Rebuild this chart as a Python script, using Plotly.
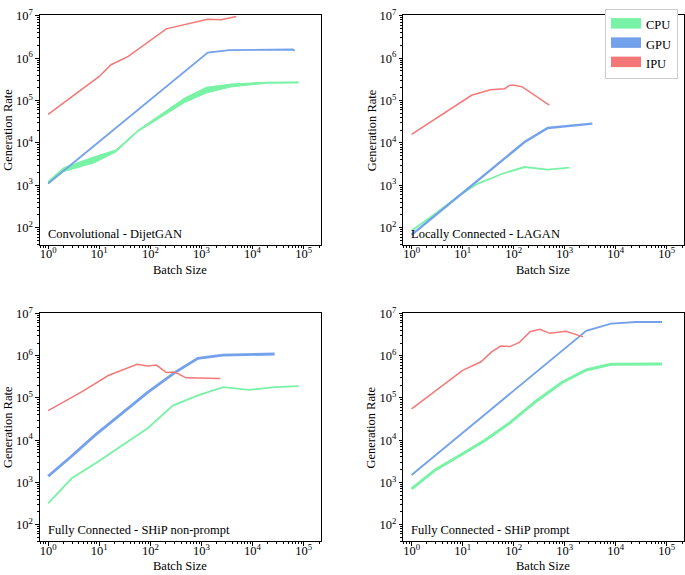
import plotly.graph_objects as go

# ---------------- data ----------------
devices = ["CPU", "GPU", "IPU"]
titles = ["Convolutional - DijetGAN", "Locally Connected - LAGAN",
          "Fully Connected - SHiP non-prompt", "Fully Connected - SHiP prompt"]
x_tick_labels = ["10<sup>0</sup>", "10<sup>1</sup>", "10<sup>2</sup>",
                 "10<sup>3</sup>", "10<sup>4</sup>", "10<sup>5</sup>"]
y_tick_labels = ["10<sup>2</sup>", "10<sup>3</sup>", "10<sup>4</sup>",
                 "10<sup>5</sup>", "10<sup>6</sup>", "10<sup>7</sup>"]

# Panel 1: DijetGAN
dj_cpu_x = [1, 2, 8, 21, 57, 470, 1240, 3800, 18600, 80000]
dj_cpu_lo = [1.08e3, 2.1e3, 3.4e3, 6.1e3, 1.85e4, 9.0e4, 1.5e5, 2.1e5, 2.55e5, 2.6e5]
dj_cpu_hi = [1.25e3, 2.6e3, 4.7e3, 6.8e3, 2.0e4, 1.15e5, 2.05e5, 2.45e5, 2.7e5, 2.75e5]
dj_gpu_x = [1, 1330, 3550, 16000, 61000, 67000]
dj_gpu_y = [1.1e3, 1.35e6, 1.55e6, 1.6e6, 1.6e6, 1.5e6]
dj_ipu_x = [1, 10, 17, 37, 205, 500, 1330, 2450, 4800]
dj_ipu_y = [4.7e4, 3.7e5, 7.0e5, 1.1e6, 4.9e6, 6.3e6, 8.3e6, 8.1e6, 9.6e6]

# Panel 2: LAGAN
la_cpu_x = [1, 3, 9, 20, 62, 164, 467, 1240]
la_cpu_y = [85, 220, 600, 1.1e3, 1.9e3, 2.7e3, 2.35e3, 2.6e3]
la_gpu_x = [1, 164, 467, 3500]
la_gpu_y = [68, 1.05e4, 2.25e4, 2.85e4]
la_ipu_x = [1, 15, 35, 67, 84, 105, 148, 500]
la_ipu_y = [1.6e4, 1.33e5, 1.8e5, 1.9e5, 2.3e5, 2.3e5, 2.1e5, 7.8e4]

# Panel 3: SHiP non-prompt
np_cpu_x = [1, 2.9, 8.8, 29, 90, 275, 850, 2700, 8500, 27000, 80000]
np_cpu_y = [3.2e2, 1.25e3, 2.9e3, 7.8e3, 1.95e4, 6.6e4, 1.15e5, 1.8e5, 1.55e5, 1.8e5, 1.9e5]
np_gpu_x = [1, 2.9, 8.2, 27, 90, 300, 850, 2600, 27000]
np_gpu_y = [1.4e3, 4.2e3, 1.3e4, 4.2e4, 1.38e5, 4.0e5, 8.7e5, 1.03e6, 1.1e6]
np_ipu_x = [1, 4.8, 15, 55, 88, 132, 205, 300, 500, 2350]
np_ipu_y = [5.0e4, 1.45e5, 3.4e5, 6.3e5, 5.7e5, 6.0e5, 4.0e5, 4.1e5, 3.0e5, 2.9e5]

# Panel 4: SHiP prompt
pr_cpu_x = [1, 2.95, 9, 27.6, 85, 280, 870, 2650, 8100, 81000]
pr_cpu_y = [7.0e2, 2.0e3, 4.4e3, 1.0e4, 2.6e4, 8.5e4, 2.3e5, 4.6e5, 6.3e5, 6.4e5]
pr_gpu_x = [1, 2650, 8100, 25000, 81000]
pr_gpu_y = [1.5e3, 3.9e6, 5.8e6, 6.3e6, 6.3e6]
pr_ipu_x = [1, 10, 23, 37, 56, 85, 132, 210, 325, 510, 1070, 2300]
pr_ipu_y = [5.5e4, 4.5e5, 7.2e5, 1.23e6, 1.7e6, 1.65e6, 2.1e6, 3.7e6, 4.26e6, 3.4e6, 3.8e6, 2.8e6]

# ---------------- style ----------------
COLORS = {"CPU": "#78f2a5", "GPU": "#73a1ec", "IPU": "#f47878"}
FONT = "Liberation Serif, DejaVu Serif, serif"
W, H = 685, 575

fig = go.Figure()

def ax_suffix(i):
    return "" if i == 1 else str(i)

def add_line(panel, dev, x, y, width=1.5):
    s = ax_suffix(panel)
    fig.add_trace(go.Scatter(x=x, y=y, mode="lines",
                             line=dict(color=COLORS[dev], width=width),
                             xaxis="x" + s, yaxis="y" + s, showlegend=False,
                             hoverinfo="skip"))

def add_band(panel, dev, x, lo, hi):
    s = ax_suffix(panel)
    fig.add_trace(go.Scatter(x=x, y=hi, mode="lines",
                             line=dict(color=COLORS[dev], width=1),
                             xaxis="x" + s, yaxis="y" + s, showlegend=False,
                             hoverinfo="skip"))
    fig.add_trace(go.Scatter(x=x, y=lo, mode="lines", fill="tonexty",
                             fillcolor=COLORS[dev],
                             line=dict(color=COLORS[dev], width=1),
                             xaxis="x" + s, yaxis="y" + s, showlegend=False,
                             hoverinfo="skip"))

# Panel 1
add_band(1, "CPU", dj_cpu_x, dj_cpu_lo, dj_cpu_hi)
add_line(1, "GPU", dj_gpu_x, dj_gpu_y, 1.8)
add_line(1, "IPU", dj_ipu_x, dj_ipu_y, 1.5)
# Panel 2
add_line(2, "CPU", la_cpu_x, la_cpu_y, 1.8)
add_line(2, "GPU", la_gpu_x, la_gpu_y, 2.4)
add_line(2, "IPU", la_ipu_x, la_ipu_y, 1.5)
# Panel 3
add_line(3, "CPU", np_cpu_x, np_cpu_y, 1.8)
add_line(3, "GPU", np_gpu_x, np_gpu_y, 2.8)
add_line(3, "IPU", np_ipu_x, np_ipu_y, 1.5)
# Panel 4
add_line(4, "CPU", pr_cpu_x, pr_cpu_y, 3.0)
add_line(4, "GPU", pr_gpu_x, pr_gpu_y, 1.8)
add_line(4, "IPU", pr_ipu_x, pr_ipu_y, 1.5)

# legend entries (patches)
for dev in devices:
    fig.add_trace(go.Scatter(x=[None], y=[None], mode="lines", name=dev,
                             fill="toself", fillcolor=COLORS[dev],
                             line=dict(color=COLORS[dev], width=9),
                             xaxis="x2", yaxis="y2", showlegend=True))

# ---------------- axes ----------------
px = lambda v: v / W
py = lambda v: 1 - v / H
domains = {
    1: ([px(40), px(321)], [py(240), py(7)]),
    2: ([px(404), px(684.5)], [py(240), py(7)]),
    3: ([px(40), px(321)], [py(541), py(309)]),
    4: ([px(404), px(684.5)], [py(541), py(309)]),
}
x_major = [1, 10, 100, 1000, 10000, 100000]
y_major = [1e2, 1e3, 1e4, 1e5, 1e6, 1e7]
x_minor = [k * 10 ** d for d in range(-1, 6) for k in range(2, 10)]
y_minor = [k * 10 ** d for d in range(1, 7) for k in range(2, 10)]

tickfont = dict(family=FONT, size=12.5, color="black")
layout = {}
for i in range(1, 5):
    s = ax_suffix(i)
    xd, yd = domains[i]
    layout["xaxis" + s] = dict(
        type="log", range=[-0.16, 5.33], domain=xd, anchor="y" + s,
        showline=True, linecolor="black", linewidth=1, mirror=True,
        showgrid=False, zeroline=False, ticks="outside", ticklen=3.5,
        tickwidth=0.8, tickcolor="black", tickmode="array",
        tickvals=x_major, ticktext=x_tick_labels, tickfont=tickfont,
        ticklabelstandoff=-6,
        minor=dict(tickmode="array", tickvals=x_minor, ticks="outside",
                   ticklen=2, tickwidth=0.6, tickcolor="black", showgrid=False),
    )
    layout["yaxis" + s] = dict(
        type="log", range=[1.6, 7.02], domain=yd, anchor="x" + s,
        showline=True, linecolor="black", linewidth=1, mirror=True,
        showgrid=False, zeroline=False, ticks="outside", ticklen=3.5,
        tickwidth=0.8, tickcolor="black", tickmode="array",
        tickvals=y_major, ticktext=y_tick_labels, tickfont=tickfont,
        minor=dict(tickmode="array", tickvals=y_minor, ticks="outside",
                   ticklen=2, tickwidth=0.6, tickcolor="black", showgrid=False),
    )

annotations = []
label_font = dict(family=FONT, size=12.5, color="black")
# panel titles inside the axes, bottom-left
title_pos = {1: (46, 229), 2: (410, 229), 3: (46, 529), 4: (410, 529)}
for i in range(1, 5):
    xx, yy = title_pos[i]
    annotations.append(dict(x=px(xx), y=py(yy), xref="paper", yref="paper",
                            text=titles[i - 1], showarrow=False,
                            xanchor="left", yanchor="middle", font=label_font))
# axis titles
for i in range(1, 5):
    xd, yd = domains[i]
    xc = (xd[0] + xd[1]) / 2 if i in (1, 3) else px((404 + 684.5) / 2)
    xt_y = 266 if i in (1, 2) else 566
    annotations.append(dict(x=xc, y=py(xt_y), xref="paper", yref="paper",
                            text="Batch Size", showarrow=False,
                            xanchor="center", yanchor="middle", font=label_font))
    yt_x = 8 if i in (1, 3) else 372
    annotations.append(dict(x=px(yt_x), y=(yd[0] + yd[1]) / 2, xref="paper",
                            yref="paper", text="Generation Rate",
                            textangle=-90, showarrow=False,
                            xanchor="center", yanchor="middle", font=label_font))

fig.update_layout(
    width=W, height=H, margin=dict(l=0, r=0, t=0, b=0),
    paper_bgcolor="white", plot_bgcolor="white",
    font=dict(family=FONT, size=13, color="black"),
    annotations=annotations,
    legend=dict(x=px(679), y=py(1), xanchor="right", yanchor="top",
                bgcolor="white", bordercolor="#cccccc", borderwidth=1,
                font=dict(family=FONT, size=12.5, color="black"),
                traceorder="normal", itemwidth=30, tracegroupgap=0),
    showlegend=True,
    **layout,
)

fig.write_html("out.html", config={"displayModeBar": False},
               post_script="document.body.style.margin='0';document.body.style.padding='0';")
